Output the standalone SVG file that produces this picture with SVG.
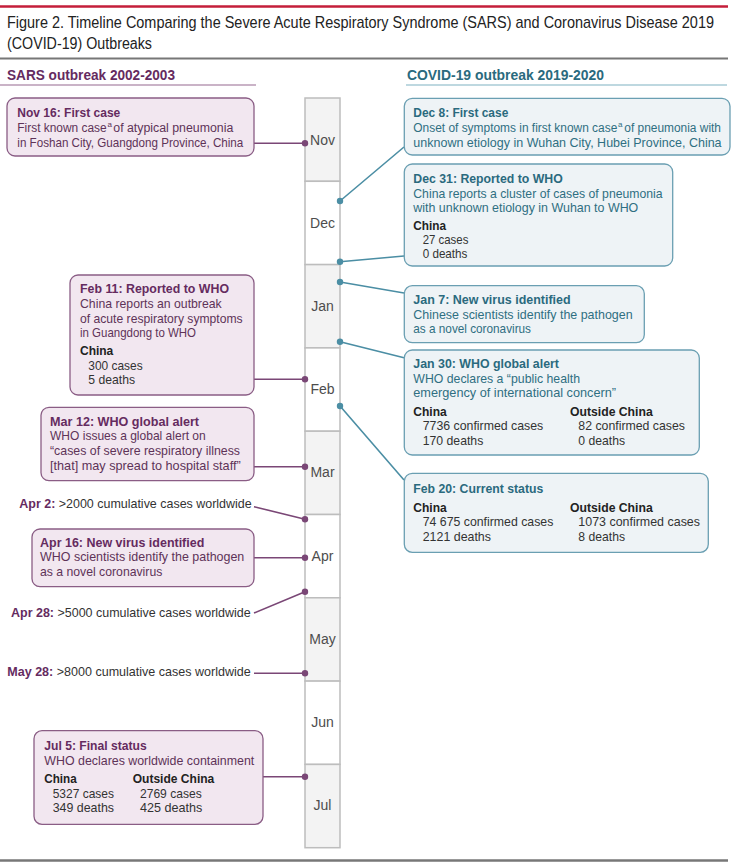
<svg xmlns="http://www.w3.org/2000/svg" width="735" height="865" viewBox="0 0 735 865">
<style>
text{font-family:"Liberation Sans",Arial,sans-serif;font-size:13px}
.h{fill:#222;font-size:16px}
.sh{font-size:14px;font-weight:bold}
.pt{fill:#652b5f;font-weight:bold}
.pb{fill:#5e3358}
.ct{fill:#2a6a7e;font-weight:bold}
.cb{fill:#2f6f82}
.k{fill:#222;font-weight:bold}
.n{fill:#333}
.m{fill:#4d4d4d;font-size:14px;text-anchor:middle}
.pbox{fill:#f2e7f0;stroke:#8a5d85;stroke-width:1.3}
.cbox{fill:#eef3f6;stroke:#6a9fb2;stroke-width:1.3}
.pl{stroke:#7a4776;stroke-width:1.6;fill:none}
.cl{stroke:#4b8ea4;stroke-width:1.6;fill:none}
.pd{fill:#7a4776}
.cd{fill:#4b8ea4}
.g{fill:#f3f3f3;stroke:#bdbdbd;stroke-width:1.5}
.w{fill:#fff;stroke:#bdbdbd;stroke-width:1.5}
.s12{font-size:12px}
.sup{font-size:8px}
</style>
<rect width="735" height="865" fill="#fff"/>
<g id="header">
<line x1="0" y1="6.5" x2="728" y2="6.5" stroke="#c41e3a" stroke-width="2.5"/>
<text class="h" transform="scale(0.88,1)" x="7.95" y="28.5" textLength="803.4" lengthAdjust="spacingAndGlyphs">Figure 2. Timeline Comparing the Severe Acute Respiratory Syndrome (SARS) and Coronavirus Disease 2019</text>
<text class="h" x="7" y="48.5" textLength="145" lengthAdjust="spacingAndGlyphs">(COVID-19) Outbreaks</text>
<line x1="0" y1="58.5" x2="728" y2="58.5" stroke="#777" stroke-width="2"/>
<text class="sh" x="7" y="80" fill="#652b5f" textLength="168" lengthAdjust="spacingAndGlyphs">SARS outbreak 2002-2003</text>
<line x1="0" y1="85" x2="256" y2="85" stroke="#b89ab5" stroke-width="1.5"/>
<text class="sh" x="407" y="80" fill="#2a6a7e" textLength="197" lengthAdjust="spacingAndGlyphs">COVID-19 outbreak 2019-2020</text>
<line x1="406" y1="85" x2="727" y2="85" stroke="#a9cbd6" stroke-width="1.5"/>
</g>
<g id="timeline">
<rect class="g" x="305" y="98" width="35" height="83.3"/>
<rect class="w" x="305" y="181.3" width="35" height="83.3"/>
<rect class="g" x="305" y="264.6" width="35" height="83.3"/>
<rect class="w" x="305" y="347.9" width="35" height="83.3"/>
<rect class="g" x="305" y="431.2" width="35" height="83.3"/>
<rect class="w" x="305" y="514.5" width="35" height="83.3"/>
<rect class="g" x="305" y="597.8" width="35" height="83.3"/>
<rect class="w" x="305" y="681.1" width="35" height="83.3"/>
<rect class="g" x="305" y="764.4" width="35" height="83.3"/>
<text class="m" x="322.5" y="145">Nov</text>
<text class="m" x="322.5" y="228">Dec</text>
<text class="m" x="322.5" y="311">Jan</text>
<text class="m" x="322.5" y="394">Feb</text>
<text class="m" x="322.5" y="477">Mar</text>
<text class="m" x="322.5" y="561">Apr</text>
<text class="m" x="322.5" y="644">May</text>
<text class="m" x="322.5" y="727">Jun</text>
<text class="m" x="322.5" y="810">Jul</text>
</g>
<g id="connectors">
<path class="pl" d="M254 143.3H305M254 379.3H305M254 466.7H305M254 506.7L305 519.3M254 557.7H305M254 613L305 591.7M254 673.3H305M263 776.7H305"/>
<g class="pd">
<circle cx="305" cy="143.3" r="3.2"/><circle cx="305" cy="379.3" r="3.2"/><circle cx="305" cy="466.7" r="3.2"/><circle cx="305" cy="519.3" r="3.2"/><circle cx="305" cy="557.7" r="3.2"/><circle cx="305" cy="591.7" r="3.2"/><circle cx="305" cy="673.3" r="3.2"/><circle cx="305" cy="776.7" r="3.2"/>
</g>
<path class="cl" d="M340 201L404 147M340 261.7L404 256M340 282L404 293M340 341.7L404 357.7M340 406L404 480"/>
<g class="cd">
<circle cx="340" cy="201" r="3.2"/><circle cx="340" cy="261.7" r="3.2"/><circle cx="340" cy="282" r="3.2"/><circle cx="340" cy="341.7" r="3.2"/><circle cx="340" cy="406" r="3.2"/>
</g>
</g>
<g id="nov16">
<rect class="pbox" x="7" y="98" width="247" height="58" rx="8"/>
<text class="pt" x="17.3" y="117" textLength="103" lengthAdjust="spacingAndGlyphs">Nov 16: First case</text>
<text class="pb s12" x="17.3" y="132" textLength="89.4" lengthAdjust="spacingAndGlyphs">First known case</text>
<text class="pb sup" x="107.4" y="127">a</text>
<text class="pb s12" x="113.3" y="132" textLength="120" lengthAdjust="spacingAndGlyphs">of atypical pneumonia</text>
<text class="pb" x="17.3" y="147" textLength="226" lengthAdjust="spacingAndGlyphs">in Foshan City, Guangdong Province, China</text>
</g>
<g id="feb11">
<rect class="pbox" x="70" y="275" width="184" height="120" rx="8"/>
<text class="pt" x="80" y="293.3" textLength="149" lengthAdjust="spacingAndGlyphs">Feb 11: Reported to WHO</text>
<text class="pb" x="80" y="307.8" textLength="141.7" lengthAdjust="spacingAndGlyphs">China reports an outbreak</text>
<text class="pb" x="80" y="322.5" textLength="162.7" lengthAdjust="spacingAndGlyphs">of acute respiratory symptoms</text>
<text class="pb" x="80" y="337.2" textLength="116" lengthAdjust="spacingAndGlyphs">in Guangdong to WHO</text>
<text class="k" x="80" y="355" textLength="33.3" lengthAdjust="spacingAndGlyphs">China</text>
<text class="n" x="88.3" y="370" textLength="54.3" lengthAdjust="spacingAndGlyphs">300 cases</text>
<text class="n" x="88.3" y="384" textLength="46.7" lengthAdjust="spacingAndGlyphs">5 deaths</text>
</g>
<g id="mar12">
<rect class="pbox" x="41" y="407.3" width="213" height="73.4" rx="8"/>
<text class="pt" x="50" y="425.7" textLength="149" lengthAdjust="spacingAndGlyphs">Mar 12: WHO global alert</text>
<text class="pb" x="50" y="440.2" textLength="155.7" lengthAdjust="spacingAndGlyphs">WHO issues a global alert on</text>
<text class="pb" x="50" y="454.7" textLength="190" lengthAdjust="spacingAndGlyphs">“cases of severe respiratory illness</text>
<text class="pb" x="50" y="469.5" textLength="190.7" lengthAdjust="spacingAndGlyphs">[that] may spread to hospital staff”</text>
</g>
<g id="apr2">
<text x="19.3" y="508.3" textLength="232.4" lengthAdjust="spacingAndGlyphs"><tspan class="pt">Apr 2:</tspan><tspan class="n"> &gt;2000 cumulative cases worldwide</tspan></text>
</g>
<g id="apr16">
<rect class="pbox" x="32" y="529" width="222" height="57.7" rx="8"/>
<text class="pt" x="40" y="546.7" textLength="164.3" lengthAdjust="spacingAndGlyphs">Apr 16: New virus identified</text>
<text class="pb" x="40" y="561.2" textLength="204.3" lengthAdjust="spacingAndGlyphs">WHO scientists identify the pathogen</text>
<text class="pb" x="40" y="575.8" textLength="122.3" lengthAdjust="spacingAndGlyphs">as a novel coronavirus</text>
</g>
<g id="apr28">
<text x="11" y="616.7" textLength="239.7" lengthAdjust="spacingAndGlyphs"><tspan class="pt">Apr 28:</tspan><tspan class="n"> &gt;5000 cumulative cases worldwide</tspan></text>
</g>
<g id="may28">
<text x="7.3" y="675.7" textLength="243.4" lengthAdjust="spacingAndGlyphs"><tspan class="pt">May 28:</tspan><tspan class="n"> &gt;8000 cumulative cases worldwide</tspan></text>
</g>
<g id="jul5">
<rect class="pbox" x="34" y="730.7" width="229" height="93.6" rx="8"/>
<text class="pt" x="44.3" y="750" textLength="102.4" lengthAdjust="spacingAndGlyphs">Jul 5: Final status</text>
<text class="pb" x="44.3" y="765" textLength="210" lengthAdjust="spacingAndGlyphs">WHO declares worldwide containment</text>
<text class="k" x="44.3" y="783.3" textLength="32.4" lengthAdjust="spacingAndGlyphs">China</text>
<text class="k" x="132.7" y="783.3" textLength="81.6" lengthAdjust="spacingAndGlyphs">Outside China</text>
<text class="n" x="52.7" y="798.3" textLength="61.3" lengthAdjust="spacingAndGlyphs">5327 cases</text>
<text class="n" x="52.7" y="811.7" textLength="61.3" lengthAdjust="spacingAndGlyphs">349 deaths</text>
<text class="n" x="140" y="798.3" textLength="61.7" lengthAdjust="spacingAndGlyphs">2769 cases</text>
<text class="n" x="140" y="811.7" textLength="62.3" lengthAdjust="spacingAndGlyphs">425 deaths</text>
</g>
<g id="dec8">
<rect class="cbox" x="404.3" y="98.3" width="325.7" height="56.7" rx="8"/>
<text class="ct" x="413.3" y="116.7" textLength="95" lengthAdjust="spacingAndGlyphs">Dec 8: First case</text>
<text class="cb s12" x="413.3" y="131.5" textLength="204" lengthAdjust="spacingAndGlyphs">Onset of symptoms in first known case</text>
<text class="cb sup" x="618" y="126.5">a</text>
<text class="cb s12" x="624.3" y="131.5" textLength="96.7" lengthAdjust="spacingAndGlyphs">of pneumonia with</text>
<text class="cb" x="413.3" y="146.5" textLength="308.3" lengthAdjust="spacingAndGlyphs">unknown etiology in Wuhan City, Hubei Province, China</text>
</g>
<g id="dec31">
<rect class="cbox" x="404.3" y="164" width="268.4" height="102" rx="8"/>
<text class="ct" x="413.3" y="183.3" textLength="149.4" lengthAdjust="spacingAndGlyphs">Dec 31: Reported to WHO</text>
<text class="cb" x="413.3" y="197.5" textLength="249.3" lengthAdjust="spacingAndGlyphs">China reports a cluster of cases of pneumonia</text>
<text class="cb" x="413.3" y="211.8" textLength="225" lengthAdjust="spacingAndGlyphs">with unknown etiology in Wuhan to WHO</text>
<text class="k" x="413.3" y="230" textLength="32.7" lengthAdjust="spacingAndGlyphs">China</text>
<text class="n" x="422.7" y="244.2" textLength="45.7" lengthAdjust="spacingAndGlyphs">27 cases</text>
<text class="n" x="422.7" y="258.3" textLength="44.7" lengthAdjust="spacingAndGlyphs">0 deaths</text>
</g>
<g id="jan7">
<rect class="cbox" x="404.3" y="285.7" width="240" height="57" rx="8"/>
<text class="ct" x="413.3" y="304" textLength="157.3" lengthAdjust="spacingAndGlyphs">Jan 7: New virus identified</text>
<text class="cb" x="413.3" y="318.5" textLength="219.3" lengthAdjust="spacingAndGlyphs">Chinese scientists identify the pathogen</text>
<text class="cb" x="413.3" y="333.2" textLength="117.7" lengthAdjust="spacingAndGlyphs">as a novel coronavirus</text>
</g>
<g id="jan30">
<rect class="cbox" x="404.3" y="350" width="295" height="105" rx="8"/>
<text class="ct" x="413.3" y="368.3" textLength="145.7" lengthAdjust="spacingAndGlyphs">Jan 30: WHO global alert</text>
<text class="cb" x="413.3" y="382.6" textLength="166.7" lengthAdjust="spacingAndGlyphs">WHO declares a “public health</text>
<text class="cb" x="413.3" y="397.3" textLength="202.7" lengthAdjust="spacingAndGlyphs">emergency of international concern”</text>
<text class="k" x="413.3" y="416" textLength="33.4" lengthAdjust="spacingAndGlyphs">China</text>
<text class="k" x="570" y="416" textLength="82.7" lengthAdjust="spacingAndGlyphs">Outside China</text>
<text class="n" x="422.7" y="430.3" textLength="120.6" lengthAdjust="spacingAndGlyphs">7736 confirmed cases</text>
<text class="n" x="422.7" y="444.8" textLength="60.6" lengthAdjust="spacingAndGlyphs">170 deaths</text>
<text class="n" x="578.3" y="430.3" textLength="106.7" lengthAdjust="spacingAndGlyphs">82 confirmed cases</text>
<text class="n" x="578.3" y="444.8" textLength="46.7" lengthAdjust="spacingAndGlyphs">0 deaths</text>
</g>
<g id="feb20">
<rect class="cbox" x="404.3" y="473.3" width="304" height="79" rx="8"/>
<text class="ct" x="413.3" y="493.3" textLength="130" lengthAdjust="spacingAndGlyphs">Feb 20: Current status</text>
<text class="k" x="413.3" y="511.7" textLength="33.4" lengthAdjust="spacingAndGlyphs">China</text>
<text class="k" x="570" y="511.7" textLength="82.7" lengthAdjust="spacingAndGlyphs">Outside China</text>
<text class="n" x="422.7" y="526.2" textLength="130.6" lengthAdjust="spacingAndGlyphs">74 675 confirmed cases</text>
<text class="n" x="422.7" y="540.8" textLength="68.3" lengthAdjust="spacingAndGlyphs">2121 deaths</text>
<text class="n" x="578.3" y="526.2" textLength="121.7" lengthAdjust="spacingAndGlyphs">1073 confirmed cases</text>
<text class="n" x="578.3" y="540.8" textLength="46.7" lengthAdjust="spacingAndGlyphs">8 deaths</text>
</g>
<g id="footer">
<line x1="0" y1="860.5" x2="728" y2="860.5" stroke="#777" stroke-width="2.5"/>
</g>
</svg>
